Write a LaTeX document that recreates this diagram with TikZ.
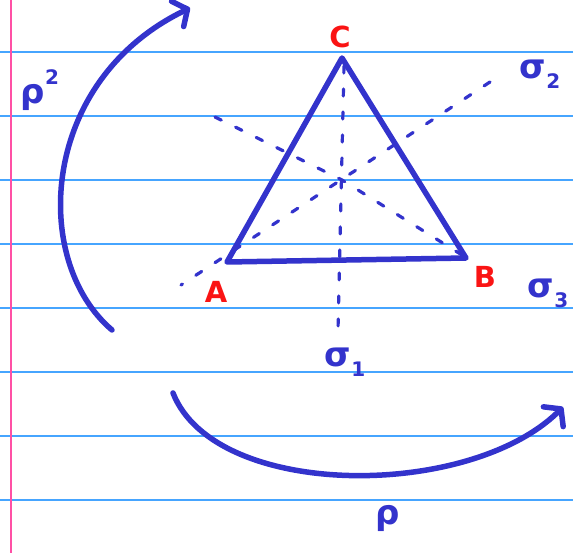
\documentclass[tikz,border=0pt]{standalone}
\usepackage{fontspec}
\setsansfont{DejaVu Sans}
\usetikzlibrary{arrows.meta}
\definecolor{ink}{RGB}{51,51,204}
\definecolor{redink}{RGB}{250,20,20}
\definecolor{ruleblue}{RGB}{70,165,255}
\definecolor{marginpink}{RGB}{255,80,165}
\newcommand{\sub}[1]{\raisebox{-0.3em}{\fontsize{20}{20}\selectfont #1}}
\newcommand{\sups}[1]{\raisebox{0.55em}{\fontsize{20}{20}\selectfont #1}}
\begin{document}
\begin{tikzpicture}[x=1pt, y=-1pt,
    pen/.style={ink, line width=5.5pt, line cap=round, line join=round},
    axis/.style={ink, line width=3.2pt, line cap=round, dash pattern=on 7pt off 16pt},
    vlabel/.style={text=redink, font=\sffamily\bfseries\fontsize{29}{29}\selectfont},
    slabel/.style={text=ink, font=\sffamily\bfseries\fontsize{34}{34}\selectfont},
    hook/.style={-{Straight Barb[length=11pt, width=28pt, round]}}]
    \useasboundingbox (0,0) rectangle (573,553);
    % paper
    \foreach \y in {52,116,...,500}
        \draw[ruleblue, line width=1.5pt] (0,\y) -- (573,\y);
    \draw[marginpink, line width=1.5pt] (11,0) -- (11,553);
    % triangle
    \coordinate (A) at (227,262);
    \coordinate (B) at (466,258);
    \coordinate (C) at (342,58);
    \coordinate (O) at (342,180);
    % symmetry axes
    \coordinate (s1a) at (344,66);
    \coordinate (s1b) at (338,330);
    \coordinate (s2a) at (490,82);
    \coordinate (s2b) at (181,285);
    \coordinate (s3a) at (215,117);
    \coordinate (s3b) at (470,260);
    \draw[axis] (s1a) -- (s1b);
    \draw[axis] (s2a) -- (s2b);
    \draw[axis] (s3a) -- (O) -- (s3b);
    \draw[pen] (A) -- (B) -- (C) -- cycle;
    \node[vlabel] (labC) at (340,37) {C};
    \node[vlabel] (labA) at (216,292) {A};
    \node[vlabel] (labB) at (485,277) {B};
    \node[slabel] (sig1) at (345,362) {σ\sub{1}};
    \node[slabel] (sig2) at (540,74) {σ\sub{2}};
    \node[slabel] (sig3) at (548,293) {σ\sub{3}};
    % rotations
    \coordinate (r2a) at (112,330);
    \coordinate (r2b) at (190,8);
    \draw[pen, hook] (r2a) .. controls (30,260) and (40,80) .. (r2b);
    \node[slabel] (rho2) at (40,90) {ρ\sups{2}};
    \coordinate (r1a) at (173,393);
    \coordinate (r1b) at (563,407);
    \draw[pen, hook] (r1a) .. controls (215,500) and (470,500) .. (r1b);
    \node[slabel] (rho1) at (388,518) {ρ};
\end{tikzpicture}
\end{document}
